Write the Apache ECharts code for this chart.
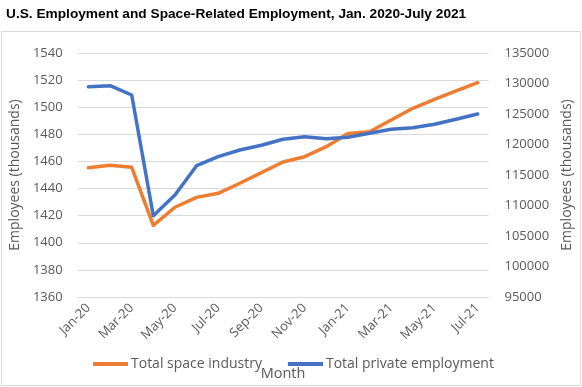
<!DOCTYPE html>
<html>
<head>
<meta charset="utf-8">
<script src="https://cdn.jsdelivr.net/npm/echarts@6/dist/echarts.min.js"></script>
<style>html,body{margin:0;padding:0;background:#fff;}#c{width:582px;height:387px;}</style>
</head>
<body>
<div id="c"></div>
<script>
const months = ['Jan-20','Feb-20','Mar-20','Apr-20','May-20','Jun-20','Jul-20','Aug-20','Sep-20','Oct-20','Nov-20','Dec-20','Jan-21','Feb-21','Mar-21','Apr-21','May-21','Jun-21','Jul-21'];
const spaceIndustry = [1455.4,1457.2,1455.7,1412.9,1426.2,1433.5,1436.5,1443.9,1451.7,1459.6,1463.5,1470.9,1480.7,1481.9,1490.6,1499.2,1505.8,1512.0,1518.1];
const privateEmployment = [129475,129639,128114,108328,111721,116524,118000,119098,119868,120852,121278,120950,121180,121835,122491,122753,123311,124130,125000];
const leftTicks = {min:1360, max:1540, interval:20};
const rightTicks = {min:95000, max:135000, interval:5000};

const font = 'Open Sans';
const gray = '#595959';
const chart = echarts.init(document.getElementById('c'), null, {renderer:'canvas'});
chart.setOption({
  animation:false,
  backgroundColor:'#fff',
  title:{
    text:'U.S. Employment and Space-Related Employment, Jan. 2020-July 2021',
    left:1, top:2,
    textStyle:{fontFamily:'Liberation Sans', fontWeight:'bold', fontSize:13.7, color:'#000'}
  },
  graphic:[{type:'rect', shape:{x:1.5, y:31.5, width:579, height:354}, style:{fill:'none', stroke:'#d9d9d9', lineWidth:1}, silent:true}],
  legend:{
    left:88, top:352, itemWidth:35, itemHeight:4, itemGap:26, icon:'rect',
    textStyle:{fontFamily:font, fontSize:14, color:gray, padding:[0,0,0,-2]},
    data:['Total space industry','Total private employment']
  },
  grid:{left:72, right:81, top:53, bottom:90},
  xAxis:{
    type:'category', data:months, boundaryGap:true,
    name:'Month', nameLocation:'middle', nameGap:69,
    nameTextStyle:{fontFamily:font, fontSize:14.5, color:gray},
    axisLine:{lineStyle:{color:'#d9d9d9'}},
    axisTick:{interval:1, length:5, lineStyle:{color:'#d9d9d9'}},
    axisLabel:{interval:1, rotate:45, margin:9, fontFamily:font, fontSize:13, color:gray},
    splitLine:{show:false}
  },
  yAxis:[{
    type:'value', min:leftTicks.min, max:leftTicks.max, interval:leftTicks.interval,
    name:'Employees (thousands)', nameLocation:'middle', nameGap:50, nameRotate:90,
    nameTextStyle:{fontFamily:font, fontSize:14, color:gray},
    axisLine:{show:false}, axisTick:{show:false},
    axisLabel:{margin:15, fontFamily:font, fontSize:13, color:gray, formatter:v => String(v)},
    splitLine:{lineStyle:{color:'#d9d9d9', width:1}}
  },{
    type:'value', position:'right', min:rightTicks.min, max:rightTicks.max, interval:rightTicks.interval,
    name:'Employees (thousands)', nameLocation:'middle', nameGap:65, nameRotate:90,
    nameTextStyle:{fontFamily:font, fontSize:14, color:gray},
    axisLine:{show:false}, axisTick:{show:false},
    axisLabel:{margin:16, fontFamily:font, fontSize:13, color:gray, formatter:v => String(v)},
    splitLine:{show:false}
  }],
  series:[{
    name:'Total space industry', type:'line', yAxisIndex:0, data:spaceIndustry,
    showSymbol:false, symbol:'none', color:'#ED7D31',
    lineStyle:{width:3.5, color:'#ED7D31', cap:'round', join:'round'}
  },{
    name:'Total private employment', type:'line', yAxisIndex:1, data:privateEmployment,
    showSymbol:false, symbol:'none', color:'#4472C4',
    lineStyle:{width:3.5, color:'#4472C4', cap:'round', join:'round'}
  }]
});
</script>
</body>
</html>
